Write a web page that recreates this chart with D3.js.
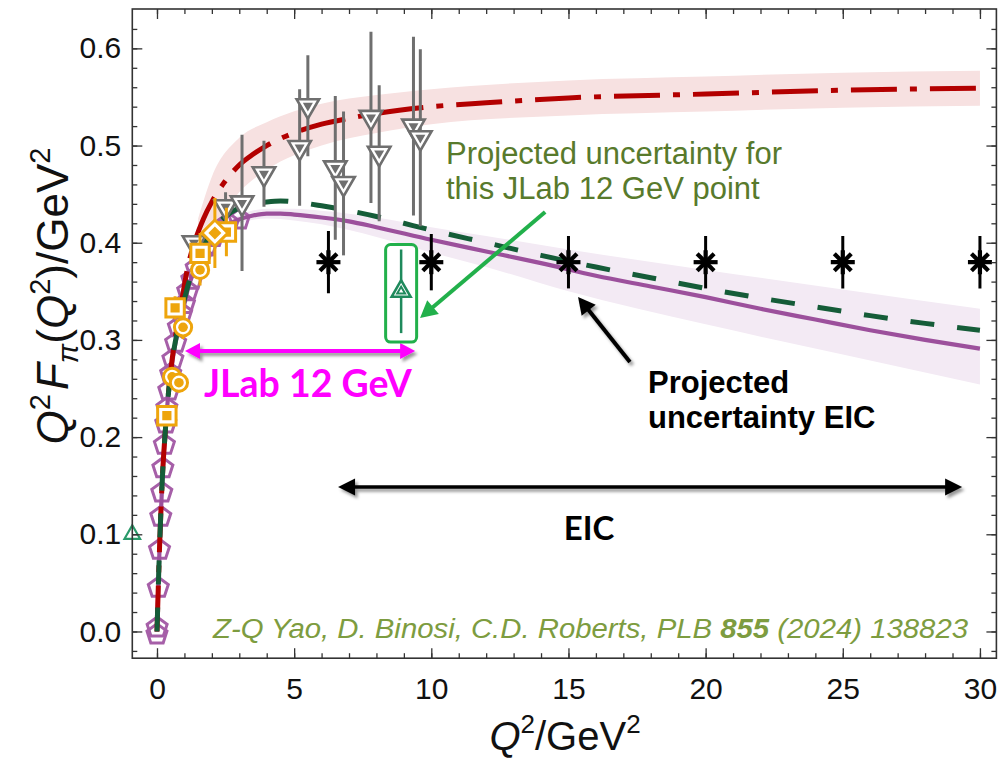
<!DOCTYPE html>
<html>
<head>
<meta charset="utf-8">
<script src="https://cdn.jsdelivr.net/npm/d3@7/dist/d3.min.js"></script>
<style>
  html, body { margin: 0; padding: 0; background: #fff; }
  svg { display: block; }
</style>
</head>
<body>
<svg id="chart" width="999" height="761"></svg>
<script>
// ---------------- data ----------------
// Axis ticks
const xMajorTicks = [0, 5, 10, 15, 20, 25, 30];
const yMajorTicks = [0.0, 0.1, 0.2, 0.3, 0.4, 0.5, 0.6];

// Purple solid curve (prediction) and its band
const dseQ2  = [0,0.05,0.1,0.2,0.3,0.4,0.5,0.6,0.75,0.9,1.0,1.15,1.3,1.5,1.75,2.0,2.5,3.0,3.5,4.0,4.5,5,6,7,8,10,12,14,16,18,20,22,24,26,28,30];
const dseVal = [0,0.048,0.092,0.16,0.205,0.24,0.265,0.285,0.307,0.327,0.337,0.355,0.367,0.381,0.394,0.404,0.417,0.424,0.428,0.43,0.43,0.429,0.426,0.422,0.416,0.403,0.391,0.379,0.366,0.355,0.344,0.332,0.321,0.31,0.3,0.291];
const dseBandQ2 = [1.5, 2, 3, 4, 5, 6, 8, 10, 12, 15, 20, 25, 30];
const dseBandLo = [0.378, 0.400, 0.420, 0.425, 0.423, 0.419, 0.406, 0.390, 0.375, 0.350, 0.316, 0.285, 0.254];
const dseBandHi = [0.384, 0.408, 0.428, 0.435, 0.435, 0.433, 0.426, 0.416, 0.407, 0.393, 0.372, 0.352, 0.332];

// Red dash-dot curve and its band
const redQ2  = [0,0.05,0.1,0.2,0.3,0.4,0.5,0.6,0.75,0.9,1.1,1.4,1.7,2.0,2.4,3.0,3.5,4.0,5,6,7,8,10,12,15,20,25,30];
const redVal = [0,0.048,0.092,0.16,0.205,0.24,0.268,0.29,0.316,0.34,0.372,0.403,0.425,0.442,0.46,0.48,0.491,0.5,0.513,0.522,0.528,0.533,0.54,0.544,0.549,0.553,0.557,0.559];
const redBandQ2 = [1.5, 2, 3, 4, 6, 8, 10, 15, 20, 25, 30];
const redBandLo = [0.385, 0.412, 0.452, 0.475, 0.500, 0.513, 0.522, 0.531, 0.535, 0.539, 0.541];
const redBandHi = [0.425, 0.468, 0.508, 0.524, 0.543, 0.552, 0.558, 0.567, 0.571, 0.575, 0.577];

// Dark green dashed curve
const grnQ2  = [0,0.05,0.1,0.2,0.3,0.4,0.5,0.6,0.75,0.9,1.0,1.15,1.3,1.5,1.75,2.0,2.5,3.0,3.5,4.0,4.5,5,6,7,8,9,10,12,14,16,18,20,22,24,26,28,30];
const grnVal = [0,0.048,0.092,0.16,0.205,0.24,0.266,0.287,0.31,0.331,0.342,0.358,0.371,0.386,0.4,0.412,0.427,0.436,0.44,0.442,0.443,0.442,0.438,0.433,0.427,0.42,0.413,0.4,0.387,0.375,0.364,0.353,0.343,0.334,0.325,0.317,0.31];

// Purple pentagons
const pentQ2  = [0,0.005,0.048,0.092,0.138,0.175,0.215,0.27,0.32,0.36,0.43,0.5,0.58,0.68,0.78,0.9,1.0,1.12,1.27,1.43,1.6,1.8,2.05,2.3,2.6,3.0];
const pentVal = [-0.003,0.004,0.045,0.084,0.118,0.143,0.168,0.192,0.214,0.23,0.248,0.265,0.28,0.297,0.313,0.327,0.337,0.35,0.362,0.374,0.386,0.396,0.406,0.413,0.42,0.424];

// Grey down-triangles with errors
const greyQ2  = [1.35, 2.5, 3.1, 3.9, 5.2, 5.5, 6.5, 6.8, 7.8, 8.1, 9.35, 9.6];
const greyVal = [0.400, 0.437, 0.441, 0.471, 0.498, 0.541, 0.477, 0.461, 0.529, 0.492, 0.520, 0.508];
const greyErr = [0.008, 0.015, 0.070, 0.034, 0.060, 0.052, 0.074, 0.074, 0.088, 0.070, 0.092, 0.091];

// JLab 6 GeV era points (gold)
const sqQ2  = [0.36, 0.66, 1.57, 2.53];
const sqVal = [0.222, 0.333, 0.389, 0.411];
const sqErr = [0.008, 0.012, 0.021, 0.025];
const circQ2  = [0.55, 0.80, 0.95, 1.57];
const circVal = [0.262, 0.256, 0.313, 0.372];
const circErr = [0.010, 0.010, 0.012, 0.016];
const diaQ2  = [2.11];
const diaVal = [0.410];
const diaErr = [0.036];

// Projected JLab 12 GeV point
const jlabQ2  = [8.9];
const jlabVal = [0.350];
const jlabErr = [0.043];

// Point at the left frame edge
const edgeQ2  = [-0.9];
const edgeVal = [0.100];

// Projected EIC points
const eicQ2  = [6.25, 10, 15, 20, 25, 30];
const eicVal = [0.38, 0.38, 0.38, 0.38, 0.38, 0.38];
const eicErr = [0.032, 0.029, 0.027, 0.027, 0.027, 0.027];

// ---------------- layout ----------------
const FONT = "'Liberation Sans', Arial, Helvetica, sans-serif";
const svg = d3.select('#chart');
const plot = { left: 132.3, right: 996.4, top: 9, bottom: 658.2 };
const x = d3.scaleLinear().domain([-0.9, 30.6]).range([plot.left, plot.right]);
const y = d3.scaleLinear().domain([-0.0275, 0.6405]).range([plot.bottom, plot.top]);

const defs = svg.append('defs');
defs.append('clipPath').attr('id', 'plotClip')
  .append('rect').attr('x', plot.left).attr('y', plot.top)
  .attr('width', plot.right - plot.left).attr('height', plot.bottom - plot.top);
const shadow = defs.append('filter').attr('id', 'shadow')
  .attr('filterUnits', 'userSpaceOnUse').attr('x', 0).attr('y', 0).attr('width', 999).attr('height', 761);
shadow.append('feDropShadow').attr('dx', 2.5).attr('dy', 3).attr('stdDeviation', 1.6)
  .attr('flood-color', '#000').attr('flood-opacity', 0.4);

const gPlot = svg.append('g').attr('clip-path', 'url(#plotClip)');

// ---------------- bands ----------------
const band = d3.area().x(d => x(d[0])).y0(d => y(d[1])).y1(d => y(d[2])).curve(d3.curveMonotoneX);
gPlot.append('path').datum(d3.zip(redBandQ2, redBandLo, redBandHi))
  .attr('d', band).attr('fill', '#f7e1e1');
gPlot.append('path').datum(d3.zip(dseBandQ2, dseBandLo, dseBandHi))
  .attr('d', band).attr('fill', '#f3eaf4');

// ---------------- marker shapes ----------------
const poly = pts => 'M' + pts.map(p => p[0].toFixed(2) + ',' + p[1].toFixed(2)).join('L') + 'Z';
const shapes = {
  triDown: r => poly([[-r * 0.866, -r * 0.5], [r * 0.866, -r * 0.5], [0, r]]),
  triUp: r => poly([[-r * 0.866, r * 0.5], [r * 0.866, r * 0.5], [0, -r]]),
  square: r => poly([[-r, -r], [r, -r], [r, r], [-r, r]]),
  diamond: r => poly([[0, -r], [r, 0], [0, r], [-r, 0]]),
  pentagon: r => poly(d3.range(5).map(i => {
    const a = -Math.PI / 2 + i * 2 * Math.PI / 5;
    return [r * Math.cos(a), r * Math.sin(a)];
  }))
};

// ---------------- pentagons (under the curves) ----------------
gPlot.append('g').selectAll('path').data(d3.zip(pentQ2, pentVal)).join('path')
  .attr('transform', d => `translate(${x(d[0])},${y(d[1])})`)
  .attr('d', shapes.pentagon(10.5))
  .attr('fill', 'none').attr('stroke', '#a65fa8').attr('stroke-width', 3);

// ---------------- curves ----------------
const line = d3.line().x(d => x(d[0])).y(d => y(d[1])).curve(d3.curveMonotoneX);
gPlot.append('path').datum(d3.zip(dseQ2, dseVal)).attr('d', line)
  .attr('fill', 'none').attr('stroke', '#9c509c').attr('stroke-width', 4.2);
gPlot.append('path').datum(d3.zip(redQ2, redVal)).attr('d', line)
  .attr('fill', 'none').attr('stroke', '#b30000').attr('stroke-width', 5)
  .attr('stroke-dasharray', '46,13,7,13');
gPlot.append('path').datum(d3.zip(grnQ2, grnVal)).attr('d', line)
  .attr('fill', 'none').attr('stroke', '#155c38').attr('stroke-width', 5)
  .attr('stroke-dasharray', '24,23');

// ---------------- error bars ----------------
function errorBars(g, q2, val, err, color, width) {
  g.append('g').selectAll('line').data(d3.zip(q2, val, err)).join('line')
    .attr('x1', d => x(d[0])).attr('x2', d => x(d[0]))
    .attr('y1', d => y(d[1] - d[2])).attr('y2', d => y(d[1] + d[2]))
    .attr('stroke', color).attr('stroke-width', width);
}
function markers(g, q2, val, outer, inner, color, sw, innerFilled) {
  const m = g.append('g').selectAll('g').data(d3.zip(q2, val)).join('g')
    .attr('transform', d => `translate(${x(d[0])},${y(d[1])})`);
  m.append('path').attr('d', outer).attr('fill', '#fff').attr('stroke', color).attr('stroke-width', sw);
  if (inner) {
    m.append('path').attr('d', inner)
      .attr('fill', innerFilled ? color : 'none')
      .attr('stroke', innerFilled ? 'none' : color).attr('stroke-width', innerFilled ? 0 : 2);
  }
}

const GREY = '#6f6f6f';
const GOLD = '#eea50c';
const TEAL = '#1f8a5c';

const gData = svg.append('g').attr('clip-path', 'url(#plotClip)');
errorBars(gData, greyQ2, greyVal, greyErr, GREY, 3);
markers(gData, greyQ2, greyVal, shapes.triDown(13), shapes.triDown(5.8), GREY, 2.6, true);

errorBars(gData, sqQ2, sqVal, sqErr, GOLD, 3);
errorBars(gData, circQ2, circVal, circErr, GOLD, 3);
errorBars(gData, diaQ2, diaVal, diaErr, GOLD, 3);
// circles
{
  const m = gData.append('g').selectAll('g').data(d3.zip(circQ2, circVal)).join('g')
    .attr('transform', d => `translate(${x(d[0])},${y(d[1])})`);
  m.append('circle').attr('r', 8.6).attr('fill', '#fff').attr('stroke', GOLD).attr('stroke-width', 3);
  m.append('circle').attr('r', 4.8).attr('fill', GOLD);
}
markers(gData, sqQ2, sqVal, shapes.square(9.2), shapes.square(4.6), GOLD, 3, true);
markers(gData, diaQ2, diaVal, shapes.diamond(13), shapes.diamond(6.5), GOLD, 3, true);

// projected JLab 12 GeV point
errorBars(gData, jlabQ2, jlabVal, jlabErr, TEAL, 2.5);
markers(gData, jlabQ2, jlabVal, shapes.triUp(11), shapes.triUp(4.6), TEAL, 2.5, false);
// point sitting on the left edge of the frame
markers(svg.append('g'), edgeQ2, edgeVal, shapes.triUp(9), null, '#2a9a6a', 2.2, false);

// EIC asterisks
errorBars(gData, eicQ2, eicVal, eicErr, '#000', 3);
{
  const s = gData.append('g').selectAll('g').data(d3.zip(eicQ2, eicVal)).join('g')
    .attr('transform', d => `translate(${x(d[0])},${y(d[1])})`);
  [0, 45, 90, 135].forEach(a => {
    s.append('line').attr('x1', -12).attr('x2', 12).attr('y1', 0).attr('y2', 0)
      .attr('transform', `rotate(${a})`)
      .attr('stroke', '#000').attr('stroke-width', 4.2);
  });
}

// ---------------- frame and ticks ----------------
const axisColor = '#333';
function styleAxis(g) {
  g.select('.domain').remove();
  g.selectAll('line').attr('stroke', axisColor).attr('stroke-width', 1.3);
  g.selectAll('text').attr('font-family', FONT).attr('font-size', 30).attr('fill', '#111');
}
const xMinor = d3.range(0, 31);
const yMinor = d3.range(-1, 32).map(i => +(i * 0.02).toFixed(2));

svg.append('g').attr('transform', `translate(0,${plot.bottom})`)
  .call(d3.axisBottom(x).tickValues(xMinor).tickSize(-5).tickFormat('')).call(styleAxis);
svg.append('g').attr('transform', `translate(0,${plot.bottom})`)
  .call(d3.axisBottom(x).tickValues(xMajorTicks).tickSize(-10).tickPadding(20).tickFormat(d3.format('d')))
  .call(styleAxis);
svg.append('g').attr('transform', `translate(0,${plot.top})`)
  .call(d3.axisTop(x).tickValues(xMinor).tickSize(-5).tickFormat('')).call(styleAxis);
svg.append('g').attr('transform', `translate(0,${plot.top})`)
  .call(d3.axisTop(x).tickValues(xMajorTicks).tickSize(-10).tickFormat('')).call(styleAxis);

svg.append('g').attr('transform', `translate(${plot.left},0)`)
  .call(d3.axisLeft(y).tickValues(yMinor).tickSize(-5).tickFormat('')).call(styleAxis);
svg.append('g').attr('transform', `translate(${plot.left},0)`)
  .call(d3.axisLeft(y).tickValues(yMajorTicks).tickSize(-10).tickPadding(11).tickFormat(d3.format('.1f')))
  .call(styleAxis);
svg.append('g').attr('transform', `translate(${plot.right},0)`)
  .call(d3.axisRight(y).tickValues(yMinor).tickSize(-5).tickFormat('')).call(styleAxis);
svg.append('g').attr('transform', `translate(${plot.right},0)`)
  .call(d3.axisRight(y).tickValues(yMajorTicks).tickSize(-10).tickFormat('')).call(styleAxis);

svg.append('rect').attr('x', plot.left).attr('y', plot.top)
  .attr('width', plot.right - plot.left).attr('height', plot.bottom - plot.top)
  .attr('fill', 'none').attr('stroke', axisColor).attr('stroke-width', 1.6);

// ---------------- axis titles ----------------
function richText(sel, parts, size) {
  const sup = Math.round(size * 0.66);
  let cur = 0;
  parts.forEach(p => {
    const target = p.sup ? -size * 0.42 : p.sub ? size * 0.22 : 0;
    const ts = sel.append('tspan').text(p.t)
      .attr('dy', target - cur)
      .attr('font-size', (p.sup || p.sub) ? sup : size);
    if (p.it) ts.attr('font-style', 'italic');
    if (p.dx) ts.attr('dx', p.dx);
    cur = target;
  });
}
const yTitle = svg.append('text')
  .attr('transform', 'translate(68,296) rotate(-90)')
  .attr('text-anchor', 'middle').attr('font-family', FONT).attr('fill', '#111');
richText(yTitle, [
  { t: 'Q', it: true }, { t: '2', sup: true }, { t: 'F', it: true, dx: 4 }, { t: 'π', sub: true, it: true },
  { t: '(' }, { t: 'Q', it: true }, { t: '2', sup: true }, { t: ')/GeV' }, { t: '2', sup: true }
], 44);

const xTitle = svg.append('text')
  .attr('x', 565).attr('y', 750)
  .attr('text-anchor', 'middle').attr('font-family', FONT).attr('fill', '#111');
richText(xTitle, [
  { t: 'Q', it: true }, { t: '2', sup: true }, { t: '/GeV' }, { t: '2', sup: true }
], 40);

// ---------------- annotations ----------------
function arrow(g, p1, p2, color, width, headLen, headHalf, both) {
  const [x1, y1] = p1, [x2, y2] = p2;
  const dx = x2 - x1, dy = y2 - y1, L = Math.hypot(dx, dy);
  const ux = dx / L, uy = dy / L, nx = -uy, ny = ux;
  const head = (tx, ty, sx, sy) => poly([
    [tx, ty],
    [tx - sx * headLen + nx * headHalf, ty - sy * headLen + ny * headHalf],
    [tx - sx * headLen - nx * headHalf, ty - sy * headLen - ny * headHalf]
  ]);
  const a = both ? [x1 + ux * headLen * 0.8, y1 + uy * headLen * 0.8] : [x1, y1];
  const b = [x2 - ux * headLen * 0.8, y2 - uy * headLen * 0.8];
  g.append('line').attr('x1', a[0]).attr('y1', a[1]).attr('x2', b[0]).attr('y2', b[1])
    .attr('stroke', color).attr('stroke-width', width);
  g.append('path').attr('d', head(x2, y2, ux, uy)).attr('fill', color);
  if (both) g.append('path').attr('d', head(x1, y1, -ux, -uy)).attr('fill', color);
}

// JLab 12 GeV reach
const gMag = svg.append('g').attr('filter', 'url(#shadow)');
arrow(gMag, [x(1.02), y(0.2886)], [x(9.41), y(0.2886)], '#ff00ff', 4, 15, 8, true);
svg.append('text').attr('x', 204).attr('y', 397)
  .attr('font-family', "Lato, 'Open Sans', sans-serif").attr('font-weight', 700)
  .attr('font-size', 37.5).attr('fill', '#ff00ff').text('JLab 12 GeV');

// EIC reach
const gEic = svg.append('g').attr('filter', 'url(#shadow)');
arrow(gEic, [x(6.6), y(0.1487)], [x(29.35), y(0.1487)], '#000', 3.5, 17, 8.5, true);
svg.append('text').attr('x', 589).attr('y', 540).attr('text-anchor', 'middle')
  .attr('font-family', "Lato, 'Open Sans', sans-serif").attr('font-weight', 700)
  .attr('font-size', 33).attr('fill', '#000').text('EIC');

// box around the projected point
svg.append('rect')
  .attr('x', x(jlabQ2[0]) - 15.5).attr('y', y(jlabVal[0] + jlabErr[0]) - 5)
  .attr('width', 31).attr('height', y(jlabVal[0] - jlabErr[0]) - y(jlabVal[0] + jlabErr[0]) + 14)
  .attr('rx', 5).attr('fill', 'none').attr('stroke', '#22b04b').attr('stroke-width', 3);

// green pointer and its caption
arrow(svg.append('g'), [x(14.15), y(0.4316)], [x(9.59), y(0.3225)], '#22b04b', 4, 17, 9, false);
const cap1 = svg.append('text').attr('font-family', FONT).attr('font-size', 31).attr('fill', '#587a2c');
cap1.append('tspan').attr('x', 446).attr('y', 164).text('Projected uncertainty for');
cap1.append('tspan').attr('x', 446).attr('y', 199).text('this JLab 12 GeV point');

// black pointer and its caption
arrow(svg.append('g').attr('filter', 'url(#shadow)'), [x(17.24), y(0.2773)], [x(15.35), y(0.3442)], '#000', 4, 17, 9, false);
const cap2 = svg.append('text').attr('font-family', FONT).attr('font-size', 31)
  .attr('font-weight', 700).attr('fill', '#000');
cap2.append('tspan').attr('x', 648).attr('y', 393).text('Projected');
cap2.append('tspan').attr('x', 648).attr('y', 428).text('uncertainty EIC');

// citation
const cite = svg.append('text').attr('x', 213).attr('y', 638)
  .attr('font-family', FONT).attr('font-style', 'italic').attr('font-size', 27)
  .attr('fill', '#7d9c40').attr('textLength', 755).attr('lengthAdjust', 'spacingAndGlyphs');
cite.append('tspan').text('Z-Q Yao, D. Binosi, C.D. Roberts, PLB ');
cite.append('tspan').attr('font-weight', 700).text('855');
cite.append('tspan').text(' (2024) 138823');
</script>
</body>
</html>
